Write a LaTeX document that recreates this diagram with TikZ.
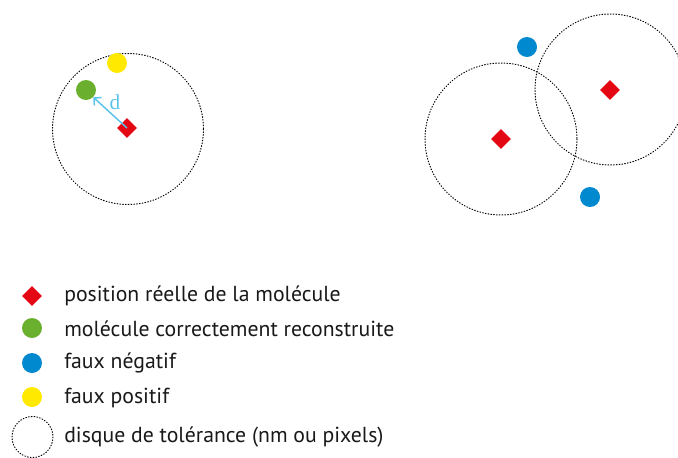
\documentclass[tikz,border=0pt]{standalone}
\usepackage{fontspec}
\setmainfont{PT Sans}
\newfontfamily\dfont{Liberation Serif}
\usetikzlibrary{arrows.meta}
\definecolor{cred}{HTML}{E30613}
\definecolor{cgreen}{HTML}{6AAF2E}
\definecolor{cblue}{HTML}{0089CF}
\definecolor{cyellow}{HTML}{FFE900}
\definecolor{carrow}{HTML}{5BC2EA}
\tikzset{
  real/.style={fill=cred, draw=none, inner sep=0pt, shape=rectangle, rotate=45, minimum size=10.5},
  dotc/.style={circle, draw=none, inner sep=0pt, minimum size=15},
  tol/.style={draw=black, line width=0.75pt, dash pattern=on 0.6pt off 1.5pt, line cap=round},
  legtext/.style={anchor=west, inner sep=0pt, font=\fontsize{16.3pt}{18pt}\selectfont, text=black!90}
}
\begin{document}
\begin{tikzpicture}[x=0.75pt,y=-0.75pt]
\useasboundingbox (0,0) rectangle (678,457);
% left group
\draw[tol] (128,129) circle[radius=75.5];
\node[real] (r1) at (127,128) {};
\node[dotc, fill=cgreen] (g1) at (86,90) {};
\node[dotc, fill=cyellow] (y1) at (117,63) {};
\draw[carrow, line width=1.1pt, -{Straight Barb[length=4pt,width=8pt]}] (r1.center) -- (g1.south east);
\node[text=carrow, font=\dfont\fontsize{16pt}{16pt}\selectfont, inner sep=0pt] (dl) at (115,102) {d};
% right group
\draw[tol] (501,139) circle[radius=76];
\draw[tol] (610.5,89.5) circle[radius=75.5];
\node[real] (r2) at (501,139) {};
\node[real] (r3) at (610,90) {};
\node[dotc, fill=cblue] (b1) at (527,47) {};
\node[dotc, fill=cblue] (b2) at (590,197) {};
% legend
\node[real] (lr) at (32,296) {};
\node[dotc, fill=cgreen] (lg) at (32,328) {};
\node[dotc, fill=cblue] (lb) at (32,363) {};
\node[dotc, fill=cyellow] (ly) at (32,397) {};
\draw[tol] (32.5,437) circle[radius=20.5];
\node[legtext] (t1) at (64,296) {position réelle de la molécule};
\node[legtext] (t2) at (64,329) {molécule correctement reconstruite};
\node[legtext] (t3) at (64,363) {faux négatif};
\node[legtext] (t4) at (64,398) {faux positif};
\node[legtext] (t5) at (64,437) {disque de tolérance (nm ou pixels)};
\end{tikzpicture}
\end{document}
